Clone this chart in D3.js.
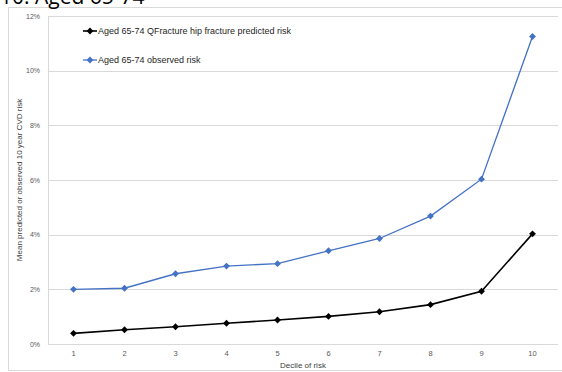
<!DOCTYPE html>
<html lang="en">
<head>
<meta charset="utf-8">
<title>Aged 65-74</title>
<script src="https://d3js.org/d3.v7.min.js"></script>
<style>
  body { margin: 0; background: #fff; }
  text { font-family: "Liberation Sans", "DejaVu Sans", sans-serif; }
</style>
</head>
<body>
<div id="chart"></div>
<script>
// deciles on the x axis
const deciles = [1, 2, 3, 4, 5, 6, 7, 8, 9, 10];
// mean risk in percent
const predicted = [0.39, 0.52, 0.63, 0.76, 0.88, 1.01, 1.18, 1.44, 1.93, 4.03];
const observed = [2.00, 2.04, 2.57, 2.85, 2.94, 3.41, 3.86, 4.68, 6.03, 11.25];
const yTicks = [0, 2, 4, 6, 8, 10, 12];
const seriesNames = ["Aged 65-74 QFracture hip fracture predicted risk", "Aged 65-74 observed risk"];

const width = 562, height = 372;
const svg = d3.select("#chart").append("svg")
    .attr("width", width)
    .attr("height", height);

// chart frame
svg.append("rect")
    .attr("x", 8.5).attr("y", 7.5)
    .attr("width", 560).attr("height", 363)
    .attr("fill", "none")
    .attr("stroke", "#d9d9d9");

// title, mostly cut off above the frame
svg.append("text")
    .attr("x", 0).attr("y", 3.5)
    .attr("font-size", 21)
    .attr("fill", "#000")
    .style("font-family", "'Open Sans', sans-serif")
    .text("10: Aged 65-74");

const x = d3.scaleBand().domain(deciles).range([48, 558]);
const y = d3.scaleLinear().domain([0, 12]).range([344, 16]);

// gridlines
svg.append("g")
    .selectAll("line")
    .data(yTicks)
    .join("line")
    .attr("x1", 48).attr("x2", 558)
    .attr("y1", d => Math.round(y(d)) + 0.5)
    .attr("y2", d => Math.round(y(d)) + 0.5)
    .attr("stroke", "#d9d9d9");

svg.append("line")
    .attr("x1", 48.5).attr("x2", 48.5)
    .attr("y1", 16).attr("y2", 344.5)
    .attr("stroke", "#d9d9d9");

// y axis labels
const yAxis = svg.append("g")
    .attr("transform", "translate(48,0)")
    .call(d3.axisLeft(y).tickValues(yTicks).tickFormat(d => d + "%").tickSize(0).tickPadding(8));
yAxis.select(".domain").remove();
yAxis.selectAll("text")
    .attr("font-size", 7)
    .attr("fill", "#595959")
    .style("font-family", "'Liberation Sans', sans-serif");

// x axis labels
const xAxis = svg.append("g")
    .attr("transform", "translate(0,344)")
    .call(d3.axisBottom(x).tickSize(0).tickPadding(7));
xAxis.select(".domain").remove();
xAxis.selectAll("text")
    .attr("font-size", 7.5)
    .attr("fill", "#595959")
    .style("font-family", "'Liberation Sans', sans-serif");

svg.append("text")
    .attr("x", 303).attr("y", 368)
    .attr("text-anchor", "middle")
    .attr("font-size", 8)
    .attr("fill", "#404040")
    .text("Decile of risk");

svg.append("text")
    .attr("transform", "translate(22,180) rotate(-90)")
    .attr("text-anchor", "middle")
    .attr("font-size", 8)
    .attr("fill", "#404040")
    .text("Mean predicted or observed 10 year CVD risk");

const cx = d => x(d) + x.bandwidth() / 2;
const diamond = d3.symbol().type(d3.symbolDiamond2).size(30);

const series = [
  { name: seriesNames[0], values: predicted, color: "#000000", width: 1.6 },
  { name: seriesNames[1], values: observed, color: "#4472c4", width: 1.3 }
];

const line = d3.line()
    .x(d => cx(d.decile))
    .y(d => y(d.value));

series.forEach(function(s) {
  const pts = deciles.map((d, i) => ({ decile: d, value: s.values[i] }));
  svg.append("path")
      .datum(pts)
      .attr("d", line)
      .attr("fill", "none")
      .attr("stroke", s.color)
      .attr("stroke-width", s.width);
  svg.append("g")
      .selectAll("path")
      .data(pts)
      .join("path")
      .attr("transform", d => "translate(" + cx(d.decile) + "," + y(d.value) + ")")
      .attr("d", diamond)
      .attr("fill", s.color);
});

// legend
const legend = svg.append("g")
    .selectAll("g")
    .data(series)
    .join("g")
    .attr("transform", (d, i) => "translate(83," + (31 + i * 29) + ")");
legend.append("line")
    .attr("x1", 0).attr("x2", 14)
    .attr("stroke", d => d.color)
    .attr("stroke-width", d => d.width);
legend.append("path")
    .attr("transform", "translate(7,0)")
    .attr("d", diamond)
    .attr("fill", d => d.color);
legend.append("text")
    .attr("x", 15).attr("y", 3.2)
    .attr("font-size", 9)
    .attr("fill", "#262626")
    .text(d => d.name);
</script>
</body>
</html>
